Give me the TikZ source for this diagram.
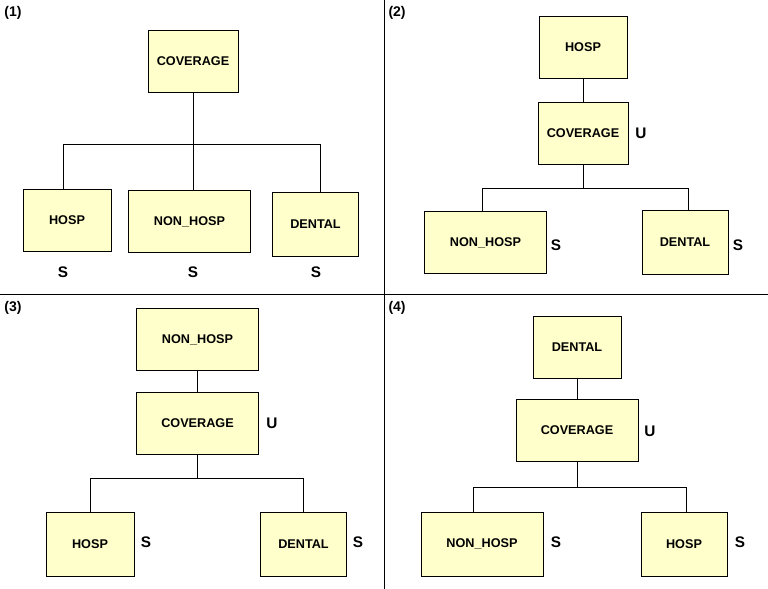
\documentclass[tikz,border=0pt]{standalone}
\usepackage{fontspec}
\setmainfont{Liberation Sans}
\usepackage{tikz}
\definecolor{boxfill}{RGB}{255,255,204}
\tikzstyle{Entity}=[rectangle, draw=black, fill=boxfill, inner sep=0pt, minimum width=66pt, minimum height=47pt, font=\bfseries\fontsize{9.5}{11}\selectfont]
\tikzstyle{Wide}=[Entity, minimum width=92pt]
\tikzstyle{Mark}=[inner sep=0pt, font=\bfseries\fontsize{11.5}{13}\selectfont]
\tikzstyle{Tag}=[inner sep=0pt, anchor=north west, font=\bfseries\fontsize{10.5}{12}\selectfont]

\begin{document}
\begin{tikzpicture}[x=0.75pt, y=-0.75pt, line width=0.75pt]
    \useasboundingbox (0,0) rectangle (768,589);
    % quadrant dividers
    \draw (0,294) -- (768,294);
    \draw (384,0) -- (384,589);

    % (1)
    \path
    (4,6) node[Tag] (tag1) {(1)}
    (193,61.5) node[Entity, minimum width=67.5pt] (cov1) {COVERAGE}
    (67,220.5) node[Entity] (hosp1) {HOSP}
    (189.5,221.5) node[Wide] (non1) {NON\_HOSP}
    (315.5,224) node[Entity, minimum width=65pt, minimum height=48pt] (den1) {DENTAL};
    \path
    (63,272) node[Mark] (s11) {S}
    (193,272) node[Mark] (s12) {S}
    (316,272) node[Mark] (s13) {S};
    \coordinate (j1) at (193,144);
    \draw (cov1) -- (j1) -| ([xshift=-3pt]hosp1.north);
    \draw (j1) -- (j1 |- non1.north);
    \draw (j1) -| ([xshift=4pt]den1.north);

    % (2)
    \path
    (388,6) node[Tag] (tag2) {(2)}
    (583,47.5) node[Entity] (hosp2) {HOSP}
    (583,133.5) node[Entity, minimum width=67.5pt] (cov2) {COVERAGE}
    (485.5,242.5) node[Wide] (non2) {NON\_HOSP}
    (685,242) node[Entity, minimum width=64.5pt, minimum height=48pt] (den2) {DENTAL};
    \path
    (641,133) node[Mark] (u2) {U}
    (556,245) node[Mark] (s21) {S}
    (738,245) node[Mark] (s22) {S};
    \coordinate (j2) at (583,188);
    \draw (hosp2) -- (cov2);
    \draw (cov2) -- (j2) -| ([xshift=-2.6pt]non2.north);
    \draw (j2) -| ([xshift=2.3pt]den2.north);

    % (3)
    \path
    (4,301) node[Tag] (tag3) {(3)}
    (197.5,339.5) node[Wide] (non3) {NON\_HOSP}
    (197.5,423.5) node[Wide] (cov3) {COVERAGE}
    (90,544) node[Entity, minimum height=48pt] (hosp3) {HOSP}
    (303.5,544) node[Entity, minimum width=65pt, minimum height=48pt] (den3) {DENTAL};
    \path
    (272,423) node[Mark] (u3) {U}
    (146,542) node[Mark] (s31) {S}
    (358,542) node[Mark] (s32) {S};
    \coordinate (j3) at (197.5,478);
    \draw (non3) -- (cov3);
    \draw (cov3) -- (j3) -| (hosp3.north);
    \draw (j3) -| (den3.north);

    % (4)
    \path
    (388,301) node[Tag] (tag4) {(4)}
    (577,347.5) node[Entity] (den4) {DENTAL}
    (577,430.5) node[Entity, minimum width=91.5pt] (cov4) {COVERAGE}
    (482,544) node[Entity, minimum width=91.5pt, minimum height=48pt] (non4) {NON\_HOSP}
    (684,544) node[Entity, minimum width=64.5pt, minimum height=48pt] (hosp4) {HOSP};
    \path
    (650,431) node[Mark] (u4) {U}
    (556,542) node[Mark] (s41) {S}
    (740,542) node[Mark] (s42) {S};
    \coordinate (j4) at (577,487);
    \draw (den4) -- (cov4);
    \draw (cov4) -- (j4) -| ([xshift=-6.75pt]non4.north);
    \draw (j4) -| ([xshift=1.5pt]hosp4.north);
\end{tikzpicture}
\end{document}
